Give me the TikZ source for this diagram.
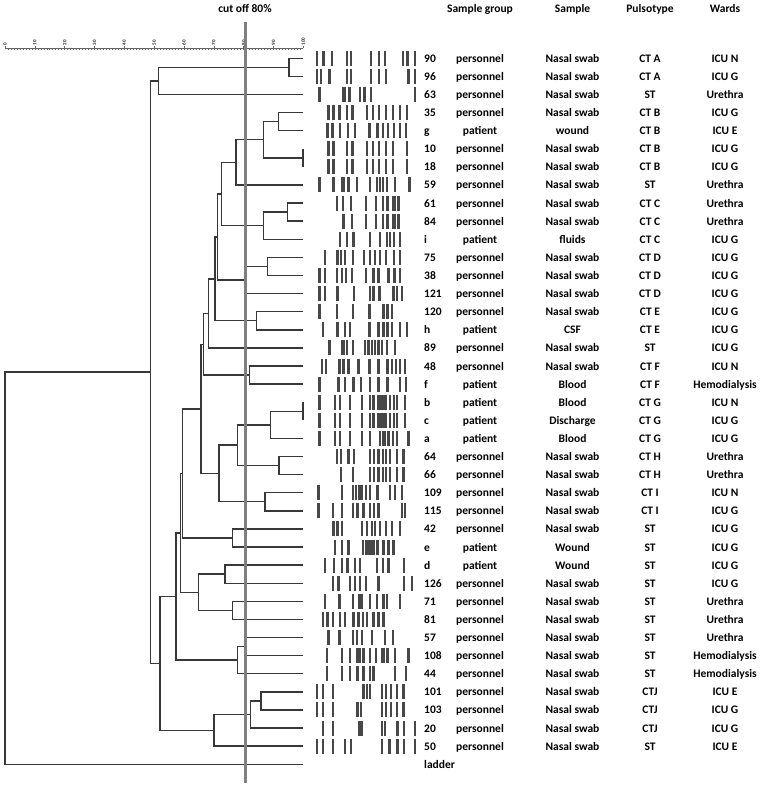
\documentclass[tikz,border=0pt]{standalone}
\usepackage{fontspec}
\setmainfont{Carlito}
\usepackage{tikz}
\usetikzlibrary{calc}

% a clade: joins two children (leaves or clades) at horizontal position #2
\newcommand{\clade}[4]{%
  \path let \p1 = (#3), \p2 = (#4) in coordinate (#1) at (#2pt, {(\y1+\y2)/2});
  \draw[branch] (#3) -| (#1) |- (#4);
}

\begin{document}
\begin{tikzpicture}[x=1pt, y=-1pt,
    declare function={rowy(\n) = 58.3 + 18.1*(\n-1); simx(\s) = 5 + 2.983*\s;}]
  \tikzstyle{branch} = [draw=black!78, line width=1.4pt]
  \tikzstyle{cutoff} = [draw=black!50, line width=3pt]
  \tikzstyle{axis} = [draw=black!60, line width=0.6pt]
  \tikzstyle{band} = [fill=black!72]
  \tikzstyle{cell} = [font=\bfseries\fontsize{11.5}{13}\selectfont, inner sep=0pt, anchor=base]
  \tikzstyle{scalelabel} = [font=\bfseries\fontsize{5}{6}\selectfont, inner sep=0pt, rotate=90, anchor=west, text=black!85]

  \useasboundingbox (0,0) rectangle (761,786);

  % similarity scale
  \draw[axis] ({simx(0)},48.5) -- ({simx(100)},48.5);
  \foreach \s in {1,...,99}
    \draw[axis, line width=0.5pt] ({simx(\s)},48.5) -- ++(0,1.5);
  \foreach \s in {0,10,...,100} {
    \draw[axis] ({simx(\s)},48.5) -- ++(0,-2.5);
    \node[scalelabel] (tick\s) at ({simx(\s)},45.5) {\s};
  }

  % leaf ends
  \foreach \i in {1,...,40}
    \coordinate (l\i) at (303, {rowy(\i)});

  % dendrogram
  \clade{c1}{289}{l1}{l2}
  \clade{c2}{158.3}{c1}{l3}
  \clade{c3}{278.3}{l4}{l5}
  \clade{c4}{303}{l6}{l7}
  \clade{c5}{263.3}{c3}{c4}
  \clade{c6}{236}{c5}{l8}
  \clade{c7}{287.7}{l9}{l10}
  \clade{c8}{263.3}{c7}{l11}
  \clade{c9}{221.7}{c6}{c8}
  \clade{c10}{267.7}{l12}{l13}
  \clade{c11}{245.5}{c10}{l14}
  \clade{c12}{217.3}{c9}{c11}
  \clade{c13}{256.7}{l15}{l16}
  \clade{c14}{215}{c12}{c13}
  \clade{c15}{208.3}{c14}{l17}
  \clade{c16}{249.3}{l18}{l19}
  \clade{c17}{203.3}{c15}{c16}
  \clade{c18}{303}{l20}{l21}
  \clade{c19}{270.7}{c18}{l22}
  \clade{c20}{279}{l23}{l24}
  \clade{c21}{237.3}{c19}{c20}
  \clade{c22}{265}{l25}{l26}
  \clade{c23}{219}{c21}{c22}
  \clade{c24}{201}{c17}{c23}
  \clade{c25}{232.7}{l27}{l28}
  \clade{c26}{182.7}{c24}{c25}
  \clade{c27}{225}{l29}{l30}
  \clade{c28}{232.7}{l31}{l32}
  \clade{c29}{198.3}{c27}{c28}
  \clade{c30}{180.7}{c26}{c29}
  \clade{c31}{245.5}{l33}{l34}
  \clade{c32}{237.3}{c31}{l35}
  \clade{c33}{176}{c30}{c32}
  \clade{c34}{261}{l36}{l37}
  \clade{c35}{250.7}{c34}{l38}
  \clade{c36}{214}{c35}{l39}
  \clade{c37}{160}{c33}{c36}
  \clade{c38}{150.5}{c2}{c37}
  \clade{c39}{5}{c38}{l40}

  % PFGE band patterns (offsets from the lane origin)
  \foreach \r/\bands in {
      1/{16.7,23.3,31.7,46.7,50.7,70.7,79,85,102.7,107.3,115},
      2/{16.7,20.7,29.3,46.7,50.7,70.7,79,86,108.3,115},
      3/{19.3,42.7,45,49.3,60,64.3,71,115},
      4/{28.3,33.3,39.3,46.7,52.3,66.7,72.7,79,86,92.7,100,106.7},
      5/{27.3,32.3,40,47.7,55,69.3,77.3,82.7,87.7,94,100,106},
      6/{28.3,33.3,46.7,52.3,66.7,72.7,79,86,92.7,106.7},
      7/{28.3,33.3,46.7,52.3,66.7,72.7,79,86,92.7,106.7},
      8/{19.3,33.3,41.7,44,48.3,56.7,70,76.7,80,82.7,86.7,95,109.3},
      9/{36.7,42.7,50.7,65.7,76,82.7,87.3,92.7,95,98.3},
      10/{43.3,51.7,66,76,82.7,87.3,92.7,95,98.3},
      11/{40,46.7,53.3,70,80,86.7,90,94,100},
      12/{25,37.3,40.7,45,52.7,64,70,75,80,86,94,100},
      13/{19.3,25,36.7,41.7,46,51.7,66,73.3,78.3,88.3,94.3,100},
      14/{19.3,25,37.3,54,70,73.3,79.3,93.3,96.7,101.7},
      15/{19.3,36.7,52.7,69.3,83.3,87.3,91.7},
      16/{22.7,37.3,45,50,69.3,78.3,83.3,87.3,91.7,100,106.7},
      17/{29.3,41.7,44,46.7,52.7,65,68.3,71.7,75,78.3,81.7,86.7,95},
      18/{21.7,26,39.3,43.3,48.3,58.3,69.3,78.3,87.3,91.7,96,100,105},
      19/{19.3,38.3,45,53.3,61,70,78.3,87.3,100,106},
      20/{19.3,35,40,50,61.7,70,73.3,78.3,80.7,83.3,86,90,94,96.7,105},
      21/{19.3,35,40,50,61.7,70,73.3,78.3,80.7,83.3,86,90,94,96.7,105},
      22/{19.3,35,40,50,61.7,70,80,82.7,85,88.3,92.7,96.7,108.3},
      23/{36.7,40.7,48.3,54,70,74,78.3,82.7,86,90,96.7,103.3},
      24/{40.7,52.7,70,74,78.3,82.7,86,90,96.7,103.3},
      25/{18.3,41.7,52.7,56,59.3,61.7,66,70,77.3,90,95,101.7},
      26/{18.3,32.7,41.7,52.7,57.3,63.3,70,74,78.3,101.7,105},
      27/{33.3,37.3,41.7,61.7,66.7,71.7,75,80,86,91.7,100},
      28/{35,41.7,48.3,62.7,66,68.3,70.7,73.3,77.3,83.3,88.3,93.3},
      29/{25,34,41.7,47.3,55,60,76.7,82.7,88.3,104},
      30/{32.7,38.3,50,55,60,66,78.3,104,111.7},
      31/{25,39.3,52.7,59.3,61.7,70,76.7,83.3,86.7,100},
      32/{22.7,27.3,32.7,40,45,53.3,58.3,62.7,66.7,73.3,78.3,83.3},
      33/{28.3,39.3,52.7,56.7,61.7,71.7,85,92.7},
      34/{26.7,41.7,50,57.3,60,63.3,70,76,81.7,84,87.3,95,108.3},
      35/{26.7,41.7,50,57.3,63.3,70,73.3,95,106},
      36/{16.7,22.7,32.7,63.3,66.7,70,81.7,86,90.7,96.7,103.3},
      37/{16.7,22.7,32.7,57.3,60.7,81.7,86,90.7,96.7,103.3},
      38/{22.7,32.7,59.3,61.7,81.7,85,97.3,104,115},
      39/{16.7,22.7,32.7,45,50.7,81.7,89.3,97.3,104,115}}
    \foreach \b in \bands
      \fill[band] ({300+\b-1.2}, {rowy(\r)-7.5}) rectangle ++(2.4,15);

  % cut-off line
  \draw[cutoff] (245,22) -- (245,783);
  \node[cell] (cutofflabel) at (245,12.5) {cut off 80\%};

  % table headers
  \node[cell] (hgroup) at (480,13) {Sample group};
  \node[cell] (hsample) at (572.5,13) {Sample};
  \node[cell] (htype) at (650,13) {Pulsotype};
  \node[cell] (hward) at (725,13) {Wards};

  % table rows
  \foreach \sid/\sgroup/\sample/\ptype/\ward [count=\r] in {
      90/personnel/Nasal swab/CT A/ICU N,
      96/personnel/Nasal swab/CT A/ICU G,
      63/personnel/Nasal swab/ST/Urethra,
      35/personnel/Nasal swab/CT B/ICU G,
      g/patient/wound/CT B/ICU E,
      10/personnel/Nasal swab/CT B/ICU G,
      18/personnel/Nasal swab/CT B/ICU G,
      59/personnel/Nasal swab/ST/Urethra,
      61/personnel/Nasal swab/CT C/Urethra,
      84/personnel/Nasal swab/CT C/Urethra,
      i/patient/fluids/CT C/ICU G,
      75/personnel/Nasal swab/CT D/ICU G,
      38/personnel/Nasal swab/CT D/ICU G,
      121/personnel/Nasal swab/CT D/ICU G,
      120/personnel/Nasal swab/CT E/ICU G,
      h/patient/CSF/CT E/ICU G,
      89/personnel/Nasal swab/ST/ICU G,
      48/personnel/Nasal swab/CT F/ICU N,
      f/patient/Blood/CT F/Hemodialysis,
      b/patient/Blood/CT G/ICU N,
      c/patient/Discharge/CT G/ICU G,
      a/patient/Blood/CT G/ICU G,
      64/personnel/Nasal swab/CT H/Urethra,
      66/personnel/Nasal swab/CT H/Urethra,
      109/personnel/Nasal swab/CT I/ICU N,
      115/personnel/Nasal swab/CT I/ICU G,
      42/personnel/Nasal swab/ST/ICU G,
      e/patient/Wound/ST/ICU G,
      d/patient/Wound/ST/ICU G,
      126/personnel/Nasal swab/ST/ICU G,
      71/personnel/Nasal swab/ST/Urethra,
      81/personnel/Nasal swab/ST/Urethra,
      57/personnel/Nasal swab/ST/Urethra,
      108/personnel/Nasal swab/ST/Hemodialysis,
      44/personnel/Nasal swab/ST/Hemodialysis,
      101/personnel/Nasal swab/CTJ/ICU E,
      103/personnel/Nasal swab/CTJ/ICU G,
      20/personnel/Nasal swab/CTJ/ICU G,
      50/personnel/Nasal swab/ST/ICU E} {
    \node[cell, anchor=base west] (id\r) at (424, {rowy(\r)+4}) {\sid};
    \node[cell] (group\r) at (480, {rowy(\r)+4}) {\sgroup};
    \node[cell] (sample\r) at (572.5, {rowy(\r)+4}) {\sample};
    \node[cell] (type\r) at (650, {rowy(\r)+4}) {\ptype};
    \node[cell] (ward\r) at (725, {rowy(\r)+4}) {\ward};
  }
  \node[cell, anchor=base west] (id40) at (424, {rowy(40)+4}) {ladder};
\end{tikzpicture}
\end{document}
